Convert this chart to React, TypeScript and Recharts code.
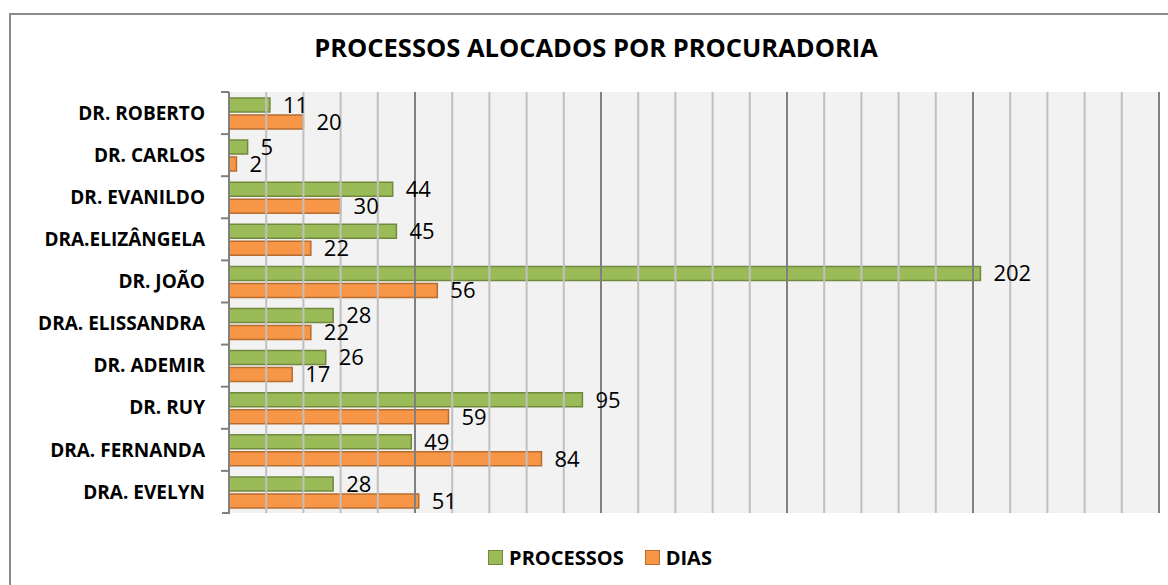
import React from 'react';
import { BarChart, Bar, XAxis, YAxis, ReferenceLine, ReferenceArea, LabelList } from 'recharts';

const categories = [
  'DR. ROBERTO',
  'DR. CARLOS',
  'DR. EVANILDO',
  'DRA.ELIZÂNGELA',
  'DR. JOÃO',
  'DRA. ELISSANDRA',
  'DR. ADEMIR',
  'DR. RUY',
  'DRA. FERNANDA',
  'DRA. EVELYN',
];
const processos = [11, 5, 44, 45, 202, 28, 26, 95, 49, 28];
const dias = [20, 2, 30, 22, 56, 22, 17, 59, 84, 51];

const xTicks = [0, 10, 20, 30, 40, 50, 60, 70, 80, 90, 100, 110, 120, 130, 140, 150, 160, 170, 180, 190, 200, 210, 220, 230, 240, 250];
const majorTicks = [0, 50, 100, 150, 200, 250];

const chartData = categories.map((name, i) => ({ name, processos: processos[i], dias: dias[i] }));

const FONT = '"Open Sans", "DejaVu Sans", sans-serif';
const GREEN = '#9BBB59';
const GREEN_EDGE = '#71893F';
const ORANGE = '#F79646';
const ORANGE_EDGE = '#B66D31';
const AXIS = '#808080';

const CHART_H = 585;
const MARGIN = { top: 92, right: 9, bottom: 72, left: 0 };
const HALF_BAND = (CHART_H - MARGIN.top - MARGIN.bottom) / categories.length / 2;

const NoTick = () => <g />;

// label + extra boundary tick under the last category
const CategoryTick = (props: any) => {
  const { x, y, payload, index, visibleTicksCount } = props;
  return (
    <g>
      {index === visibleTicksCount - 1 && (
        <rect x={x + 17} y={y + HALF_BAND - 1} width={8} height={2} fill={AXIS} />
      )}
      <text x={x} y={y} dy="0.35em" textAnchor="end" fill="#000" fontFamily={FONT} fontWeight={700} fontSize={19}>
        {payload.value}
      </text>
    </g>
  );
};

const LegendBox = () => (
  <div style={{ display: 'flex', justifyContent: 'center', alignItems: 'center', fontFamily: FONT, fontWeight: 700, fontSize: 20, color: '#000' }}>
    <span style={{ display: 'inline-block', width: 13, height: 13, background: GREEN, border: `1px solid ${GREEN_EDGE}`, marginRight: 6 }} />
    <span style={{ marginRight: 21 }}>PROCESSOS</span>
    <span style={{ display: 'inline-block', width: 13, height: 13, background: ORANGE, border: `1px solid ${ORANGE_EDGE}`, marginRight: 6 }} />
    <span>DIAS</span>
  </div>
);

const App: React.FC = () => {
  return (
    <div style={{ position: 'absolute', left: 0, top: 0, width: 1168, height: 585, background: '#fff', overflow: 'hidden' }}>
      <div style={{ position: 'absolute', left: 9, top: 13, width: 1200, height: 600, borderTop: '2px solid #8c8c8c', borderLeft: '2px solid #8c8c8c' }} />
      <div style={{ position: 'absolute', left: 0, top: 30, width: 1192, textAlign: 'center', fontFamily: FONT, fontWeight: 700, fontSize: 25.5, color: '#000' }}>
        PROCESSOS ALOCADOS POR PROCURADORIA
      </div>
      <div style={{ position: 'absolute', left: 0, top: 0 }}>
        <BarChart
          width={1168}
          height={CHART_H}
          data={chartData}
          layout="vertical"
          margin={MARGIN}
          barSize={14}
          barGap={3}
        >
          <ReferenceArea x1={0} x2={250} fill="#f2f2f2" fillOpacity={1} stroke="none" ifOverflow="extendDomain" />
          {xTicks.map(t => (
            <ReferenceLine key={`m${t}`} x={t} stroke="#c0c0c0" strokeWidth={2} />
          ))}
          {majorTicks.map(t => (
            <ReferenceLine key={t} x={t} stroke={AXIS} strokeWidth={2} />
          ))}
          <XAxis
            type="number"
            domain={[0, 250]}
            ticks={xTicks}
            interval={0}
            tick={NoTick}
            axisLine={false}
            tickLine={{ stroke: '#c0c0c0', strokeWidth: 2 }}
            tickSize={3}
            height={0}
          />
          <YAxis
            type="category"
            dataKey="name"
            width={229}
            axisLine={{ stroke: AXIS, strokeWidth: 2 }}
            tickLine={{ stroke: AXIS, strokeWidth: 2, transform: `translate(0, ${-HALF_BAND})` }}
            tickSize={8}
            tickMargin={16}
            interval={0}
            tick={CategoryTick}
          />
          <Bar dataKey="processos" name="PROCESSOS" fill={GREEN} stroke={GREEN_EDGE} strokeWidth={1.5} isAnimationActive={false}>
            <LabelList dataKey="processos" position="right" offset={13} fill="#000" style={{ fontFamily: FONT, fontSize: 22 }} />
          </Bar>
          <Bar dataKey="dias" name="DIAS" fill={ORANGE} stroke={ORANGE_EDGE} strokeWidth={1.5} isAnimationActive={false}>
            <LabelList dataKey="dias" position="right" offset={13} fill="#000" style={{ fontFamily: FONT, fontSize: 22 }} />
          </Bar>
        </BarChart>
      </div>
      <div style={{ position: 'absolute', left: 0, top: 544, width: 1200 }}>
        <LegendBox />
      </div>
    </div>
  );
};

export default App;
